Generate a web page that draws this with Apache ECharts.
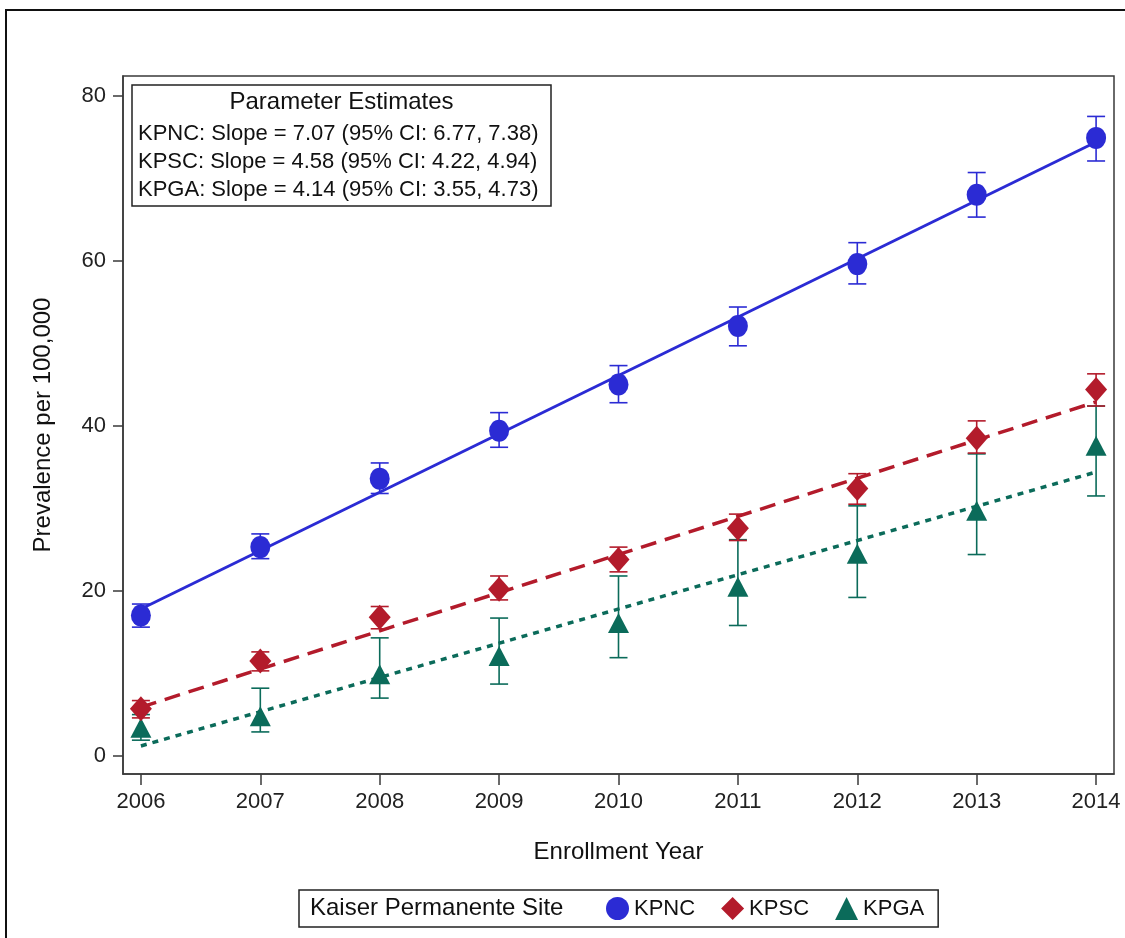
<!DOCTYPE html>
<html>
<head>
<meta charset="utf-8">
<script src="https://cdn.jsdelivr.net/npm/echarts@6/dist/echarts.min.js"></script>
<style>
html,body{margin:0;padding:0;background:#fff;}
#chart{width:1125px;height:938px;}
</style>
</head>
<body>
<div id="chart"></div>
<script>
// ---- data ----
const years = [2006, 2007, 2008, 2009, 2010, 2011, 2012, 2013, 2014];
const xTicks = [2006, 2007, 2008, 2009, 2010, 2011, 2012, 2013, 2014];
const yTicks = [0, 20, 40, 60, 80];

const kpnc     = [17.0, 25.3, 33.6, 39.4, 45.0, 52.1, 59.6, 68.0, 74.9];
const kpncLow  = [15.6, 23.9, 31.8, 37.4, 42.8, 49.7, 57.2, 65.3, 72.1];
const kpncHigh = [18.4, 26.9, 35.5, 41.6, 47.3, 54.4, 62.2, 70.7, 77.5];

const kpsc     = [5.7, 11.5, 16.8, 20.2, 23.8, 27.6, 32.4, 38.5, 44.4];
const kpscLow  = [4.6, 10.3, 15.4, 18.9, 22.3, 26.1, 30.5, 36.7, 42.4];
const kpscHigh = [6.7, 12.6, 18.1, 21.8, 25.3, 29.3, 34.2, 40.6, 46.3];

const kpga     = [3.4, 4.8, 9.9, 12.1, 16.1, 20.5, 24.5, 29.7, 37.6];
const kpgaLow  = [1.9, 2.9, 7.0, 8.7, 11.9, 15.8, 19.2, 24.4, 31.5];
const kpgaHigh = [5.0, 8.2, 14.3, 16.7, 21.8, 26.2, 30.3, 36.6, 42.4];

// fitted regression lines, value at first and last year
const fitYears = [2006, 2014];
const kpncFit = [17.8, 74.4];
const kpscFit = [5.9, 42.9];
const kpgaFit = [1.2, 34.4];

const estimateTitle = 'Parameter Estimates';
const estimateLines = [
  'KPNC: Slope = 7.07 (95% CI: 6.77, 7.38)',
  'KPSC: Slope = 4.58 (95% CI: 4.22, 4.94)',
  'KPGA: Slope = 4.14 (95% CI: 3.55, 4.73)'
];
const legendTitle = 'Kaiser Permanente Site';

// ---- styles ----
const FONT = 'Liberation Sans, Arial, sans-serif';
const C_NC = '#2b2bd4';
const C_SC = '#b31b2b';
const C_GA = '#0b6b5a';

function zip(xs, ys) { return xs.map((x, i) => [x, ys[i]]); }
function errData(lo, hi) { return years.map((y, i) => [y, lo[i], hi[i]]); }

function errorBar(name, lo, hi, color) {
  return {
    name: name + ' CI',
    type: 'custom',
    z: 3,
    silent: true,
    data: errData(lo, hi),
    encode: { x: 0, y: [1, 2] },
    renderItem: function (params, api) {
      const x = api.value(0);
      const pLo = api.coord([x, api.value(1)]);
      const pHi = api.coord([x, api.value(2)]);
      const hw = 9;
      const st = { stroke: color, lineWidth: 1.6 };
      return {
        type: 'group',
        children: [
          { type: 'line', shape: { x1: pLo[0], y1: pLo[1], x2: pHi[0], y2: pHi[1] }, style: st },
          { type: 'line', shape: { x1: pLo[0] - hw, y1: pLo[1], x2: pLo[0] + hw, y2: pLo[1] }, style: st },
          { type: 'line', shape: { x1: pHi[0] - hw, y1: pHi[1], x2: pHi[0] + hw, y2: pHi[1] }, style: st }
        ]
      };
    }
  };
}

function fitLine(name, vals, color, type, width) {
  return {
    name: name + ' fit',
    type: 'line',
    z: 4,
    silent: true,
    symbol: 'none',
    data: zip(fitYears, vals),
    lineStyle: { color: color, width: width, type: type }
  };
}

function points(name, vals, color, symbol, size) {
  return {
    name: name,
    type: 'scatter',
    z: 5,
    symbol: symbol,
    symbolSize: size,
    data: zip(years, vals),
    itemStyle: { color: color, opacity: 1 }
  };
}

const chart = echarts.init(document.getElementById('chart'), null, { renderer: 'canvas' });

const boxX = 132, boxY = 85, boxW = 419, boxH = 121;

const option = {
  backgroundColor: '#ffffff',
  animation: false,
  textStyle: { fontFamily: FONT },
  grid: {
    left: 123, right: 11, top: 76, bottom: 164,
    show: true, borderColor: '#3a3a3a', borderWidth: 1.5, backgroundColor: 'transparent'
  },
  xAxis: {
    type: 'value',
    min: 2005.85, max: 2014.15,
    name: 'Enrollment Year',
    nameLocation: 'middle',
    nameGap: 66,
    nameTextStyle: { fontSize: 24, color: '#111', fontFamily: FONT },
    axisLine: { show: true, onZero: false, lineStyle: { color: '#3a3a3a', width: 1.5 } },
    axisTick: { show: true, customValues: xTicks, length: 11, lineStyle: { color: '#3a3a3a', width: 1.5 } },
    axisLabel: { customValues: xTicks, fontSize: 22, color: '#222', margin: 17, fontFamily: FONT,
                 formatter: v => String(Math.round(v)) },
    splitLine: { show: false }
  },
  yAxis: {
    type: 'value',
    min: -2.2, max: 82.4,
    name: 'Prevalence per 100,000',
    nameLocation: 'middle',
    nameGap: 68,
    nameRotate: 90,
    nameTextStyle: { fontSize: 24, color: '#111', fontFamily: FONT },
    axisLine: { show: true, onZero: false, lineStyle: { color: '#3a3a3a', width: 1.5 } },
    axisTick: { show: true, customValues: yTicks, length: 10, lineStyle: { color: '#3a3a3a', width: 1.5 } },
    axisLabel: { customValues: yTicks, fontSize: 22, color: '#222', margin: 17, fontFamily: FONT },
    splitLine: { show: false }
  },
  legend: {
    data: ['KPNC', 'KPSC', 'KPGA'],
    left: 299, top: 890,
    orient: 'horizontal',
    padding: [7, 14, 7, 307],
    itemGap: 26,
    itemWidth: 23, itemHeight: 23,
    borderColor: '#222', borderWidth: 1.5,
    backgroundColor: '#fff',
    selectedMode: false,
    textStyle: { fontSize: 22, color: '#111', fontFamily: FONT }
  },
  graphic: [
    { type: 'rect', z: 0, silent: true,
      shape: { x: 6, y: 10, width: 1140, height: 960 },
      style: { fill: 'none', stroke: '#111', lineWidth: 2 } },
    { type: 'rect', z: 100, silent: true,
      shape: { x: boxX, y: boxY, width: boxW, height: boxH },
      style: { fill: '#fff', stroke: '#222', lineWidth: 1.5 } },
    { type: 'text', z: 101, silent: true, x: boxX + boxW / 2, y: 102,
      style: { text: estimateTitle, font: '24px ' + FONT, fill: '#111', align: 'center', verticalAlign: 'middle' } },
    { type: 'text', z: 101, silent: true, x: 138, y: 134,
      style: { text: estimateLines[0], font: '22px ' + FONT, fill: '#111', align: 'left', verticalAlign: 'middle' } },
    { type: 'text', z: 101, silent: true, x: 138, y: 162,
      style: { text: estimateLines[1], font: '22px ' + FONT, fill: '#111', align: 'left', verticalAlign: 'middle' } },
    { type: 'text', z: 101, silent: true, x: 138, y: 190,
      style: { text: estimateLines[2], font: '22px ' + FONT, fill: '#111', align: 'left', verticalAlign: 'middle' } },
    { type: 'text', z: 101, silent: true, x: 310, y: 908,
      style: { text: legendTitle, font: '24px ' + FONT, fill: '#111', align: 'left', verticalAlign: 'middle' } }
  ],
  series: [
    errorBar('KPGA', kpgaLow, kpgaHigh, C_GA),
    errorBar('KPSC', kpscLow, kpscHigh, C_SC),
    errorBar('KPNC', kpncLow, kpncHigh, C_NC),
    fitLine('KPGA', kpgaFit, C_GA, [6, 6], 3.5),
    fitLine('KPSC', kpscFit, C_SC, [16, 9], 3.5),
    fitLine('KPNC', kpncFit, C_NC, 'solid', 3),
    points('KPGA', kpga, C_GA, 'triangle', [21, 20]),
    points('KPSC', kpsc, C_SC, 'diamond', [22, 25]),
    points('KPNC', kpnc, C_NC, 'circle', [20, 22])
  ]
};
chart.setOption(option);
</script>
</body>
</html>
